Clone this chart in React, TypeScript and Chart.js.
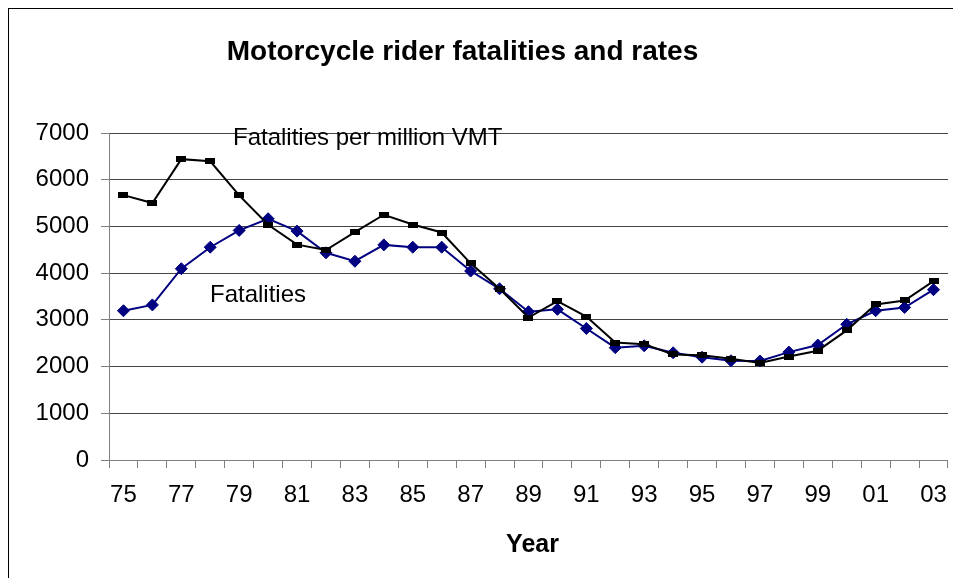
import React, { useEffect, useRef } from 'react';
import { Chart, registerables } from 'chart.js';

Chart.register(...registerables);

const years = ['75', '76', '77', '78', '79', '80', '81', '82', '83', '84', '85', '86', '87', '88', '89', '90', '91', '92', '93', '94', '95', '96', '97', '98', '99', '00', '01', '02', '03'];

const ratePerMillionVMT = [5670, 5500, 6440, 6395, 5665, 5035, 4610, 4495, 4880, 5250, 5040, 4870, 4210, 3665, 3050, 3400, 3070, 2515, 2480, 2260, 2240, 2165, 2075, 2215, 2340, 2775, 3330, 3415, 3830];

const fatalities = [3195, 3320, 4095, 4555, 4915, 5165, 4900, 4435, 4255, 4605, 4555, 4555, 4045, 3665, 3175, 3225, 2815, 2405, 2445, 2295, 2200, 2125, 2120, 2310, 2460, 2905, 3195, 3265, 3645];

const yMin = 0;
const yMax = 7000;
const yStep = 1000;

const chartTitle = 'Motorcycle rider fatalities and rates';
const xTitle = 'Year';
const rateLabel = 'Fatalities per million VMT';
const fatalLabel = 'Fatalities';

const FONT = '"Liberation Sans", Arial, Helvetica, sans-serif';

export default function App() {
  const ref = useRef<HTMLCanvasElement>(null);

  useEffect(() => {
    if (!ref.current) return;
    const sq = document.createElement('canvas');
    sq.width = 10;
    sq.height = 6;
    const sctx = sq.getContext('2d');
    if (sctx) {
      sctx.fillStyle = '#000000';
      sctx.fillRect(0, 0, 10, 6);
    }

    const textPlugin = {
      id: 'texts',
      afterDraw(chart: any) {
        const ctx = chart.ctx;
        ctx.save();
        ctx.fillStyle = '#000';
        ctx.textBaseline = 'alphabetic';
        ctx.textAlign = 'center';
        ctx.font = `bold 28px ${FONT}`;
        ctx.fillText(chartTitle, 453.5, 51);
        ctx.font = `bold 25px ${FONT}`;
        ctx.fillText(xTitle, 523.5, 542.5);
        ctx.textAlign = 'left';
        ctx.font = `24px ${FONT}`;
        ctx.fillText(rateLabel, 224, 136);
        ctx.fillText(fatalLabel, 201, 292.5);
        ctx.restore();
      },
    };

    const chart = new Chart(ref.current, {
      type: 'line',
      data: {
        labels: years,
        datasets: [
          {
            label: rateLabel,
            data: ratePerMillionVMT,
            borderColor: '#000000',
            backgroundColor: '#000000',
            borderWidth: 2,
            pointStyle: sq as any,
            pointRadius: 5,
            pointHoverRadius: 5,
            fill: false,
            tension: 0,
          },
          {
            label: fatalLabel,
            data: fatalities,
            borderColor: '#000080',
            backgroundColor: '#000080',
            borderWidth: 2,
            pointStyle: 'rectRot',
            pointRadius: 6,
            pointHoverRadius: 6,
            pointBorderWidth: 1,
            pointBackgroundColor: '#000080',
            pointBorderColor: '#000080',
            fill: false,
            tension: 0,
          },
        ],
      },
      options: {
        animation: false,
        responsive: false,
        maintainAspectRatio: false,
        layout: { padding: { top: 124, left: 0, right: 8, bottom: 0 } },
        plugins: {
          legend: { display: false },
          title: { display: false },
          tooltip: { enabled: false },
        },
        scales: {
          x: {
            type: 'category',
            offset: true,
            grid: {
              offset: true,
              drawOnChartArea: false,
              drawTicks: true,
              tickLength: 8,
              color: '#808080',
              tickColor: '#808080',
            },
            border: { color: '#808080', width: 1 },
            ticks: {
              autoSkip: false,
              maxRotation: 0,
              minRotation: 0,
              padding: 13,
              color: '#000',
              font: { family: FONT, size: 24 },
              callback: (_v: any, i: number) => (i % 2 === 0 ? years[i] : ''),
            },
            afterFit: (s: any) => {
              s.height = 118;
            },
          },
          y: {
            min: yMin,
            max: yMax,
            ticks: {
              stepSize: yStep,
              padding: 12,
              color: '#000',
              font: { family: FONT, size: 24 },
              callback: (v: any) => String(v),
            },
            grid: {
              color: (c: any) => (c.tick && c.tick.value === 0 ? '#808080' : '#444444'),
              tickColor: '#808080',
              tickLength: 8,
              drawTicks: true,
            },
            border: { color: '#808080', width: 1 },
            afterFit: (s: any) => {
              s.width = 100;
            },
          },
        },
      } as any,
      plugins: [textPlugin],
    });
    return () => chart.destroy();
  }, []);

  return (
    <div style={{ width: 951, height: 569, border: '1px solid #000', borderBottom: 'none', background: '#fff' }}>
      <canvas ref={ref} width={951} height={569} style={{ display: 'block' }} />
    </div>
  );
}
